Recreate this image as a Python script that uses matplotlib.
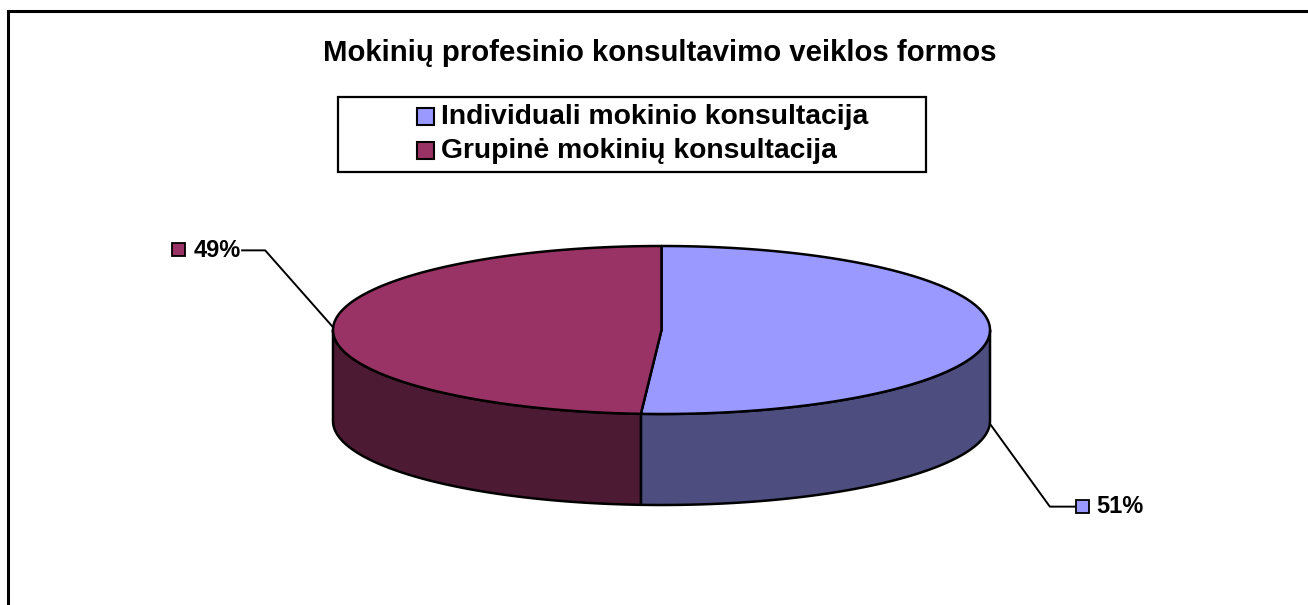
import numpy as np
import matplotlib
matplotlib.use("Agg")
import matplotlib.pyplot as plt
from matplotlib.patches import Polygon, Rectangle

plt.rcParams['font.family'] = ['Liberation Sans', 'DejaVu Sans']

# chart data
title = "Mokinių profesinio konsultavimo veiklos formos"
labels = ["Individuali mokinio konsultacija", "Grupinė mokinių konsultacija"]
shares = [51, 49]
top_colors = ["#9999FF", "#993366"]
side_colors = ["#4D4D80", "#4D1A33"]

# pie geometry (pixel units of the 1308x605 canvas)
cx, cy = 661.5, 330.0
ra, rb = 328.5, 84.0
depth = 91.0

fig = plt.figure(figsize=(13.08, 6.05), dpi=100)
ax = fig.add_axes([0, 0, 1, 1])
ax.set_xlim(0, 1308)
ax.set_ylim(605, 0)
ax.axis("off")

# outer frame (right and bottom edges fall off the picture)
ax.plot([8, 8, 1320], [620, 11, 11], color="black", lw=2.2, solid_joinstyle="miter")


def ell(theta_deg, dy=0.0):
    t = np.radians(theta_deg)
    return cx + ra * np.cos(t), cy - rb * np.sin(t) + dy


def arc(t0, t1, dy=0.0, n=200):
    t = np.linspace(t0, t1, n)
    x, y = ell(t, dy)
    return np.column_stack([x, y])


# slice angles: start at 12 o'clock, go clockwise
total = float(sum(shares))
bounds = []
start = 90.0
for s in shares:
    end = start - s / total * 360.0
    bounds.append((end, start))
    start = end

# side walls (front half only)
for (lo, hi), col in zip(bounds, side_colors):
    for k in range(-2, 2):
        f_lo, f_hi = -180 + 360 * k, 360 * k
        a0, a1 = max(lo, f_lo), min(hi, f_hi)
        if a1 - a0 <= 0:
            continue
        pts = np.vstack([arc(a0, a1), arc(a1, a0, depth)])
        ax.add_patch(Polygon(pts, closed=True, facecolor=col, edgecolor="black",
                             lw=1.8, joinstyle="round"))

# top faces
for (lo, hi), col in zip(bounds, top_colors):
    pts = np.vstack([[cx, cy], arc(hi, lo)])
    ax.add_patch(Polygon(pts, closed=True, facecolor=col, edgecolor="black",
                         lw=1.8, joinstyle="round"))

# data labels with leader lines
label_font = dict(fontsize=17, fontweight="bold")
for (lo, hi), col, s in zip(bounds, top_colors, shares):
    mid = (lo + hi) / 2.0
    front = np.sin(np.radians(mid)) < 0
    x0, y0 = ell(mid, depth if front else 0.0)
    if np.cos(np.radians(mid)) >= 0:
        ex, ey = x0 + 60, y0 + 83 if front else y0 - 83
        ax.plot([x0, ex, ex + 25], [y0, ey, ey], color="black", lw=1.4)
        ax.add_patch(Rectangle((ex + 26, ey - 7), 13, 13, facecolor=col,
                               edgecolor="black", lw=1.3))
        ax.text(ex + 46, ey, f"{s}%", ha="left", va="center", **label_font)
    else:
        ex, ey = x0 - 68, y0 - 77
        ax.plot([x0, ex, ex - 23], [y0, ey, ey], color="black", lw=1.4)
        ax.text(ex - 24, ey, f"{s}%", ha="right", va="center", **label_font)
        ax.add_patch(Rectangle((ex - 93, ey - 7), 13, 13, facecolor=col,
                               edgecolor="black", lw=1.3))

# title
ax.text(660, 53, title, ha="center", va="center", fontsize=21.2, fontweight="bold")

# legend box
ax.add_patch(Rectangle((338, 97), 588, 75, facecolor="white", edgecolor="black", lw=1.6))
for i, (lab, col) in enumerate(zip(labels, top_colors)):
    yy = 116.5 + i * 34
    ax.add_patch(Rectangle((417, yy - 8.5), 17, 17, facecolor=col, edgecolor="black", lw=1.5))
    ax.text(441, yy, lab, ha="left", va="center", fontsize=20.3, fontweight="bold")

fig.savefig("out.png", dpi=100)
